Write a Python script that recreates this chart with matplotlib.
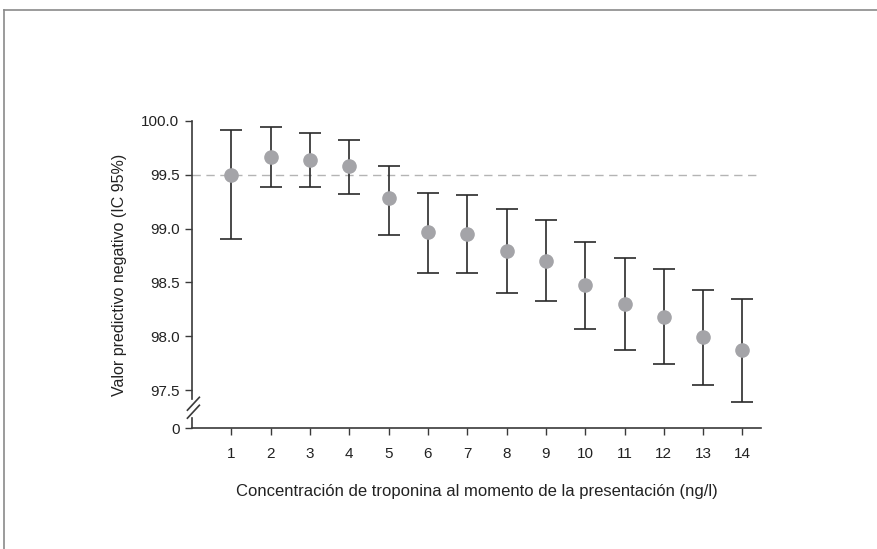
import numpy as np
import matplotlib
matplotlib.use("Agg")
import matplotlib.pyplot as plt
from matplotlib.lines import Line2D

plt.rcParams["font.family"] = ["Liberation Sans", "DejaVu Sans"]

# data
conc = [1, 2, 3, 4, 5, 6, 7, 8, 9, 10, 11, 12, 13, 14]
vpn = [99.50, 99.67, 99.64, 99.58, 99.28, 98.97, 98.95, 98.79, 98.70, 98.48, 98.30, 98.18, 97.99, 97.87]
ci_low = [98.90, 99.39, 99.39, 99.32, 98.94, 98.59, 98.59, 98.40, 98.33, 98.07, 97.87, 97.74, 97.55, 97.39]
ci_high = [99.92, 99.94, 99.89, 99.82, 99.58, 99.33, 99.31, 99.18, 99.08, 98.88, 98.73, 98.62, 98.43, 98.35]
reference_vpn = 99.5
y_ticks = [97.5, 98.0, 98.5, 99.0, 99.5, 100.0]
y_zero_pos = 97.147  # where the "0" of the broken axis sits

vpn = np.array(vpn)
yerr = [vpn - np.array(ci_low), np.array(ci_high) - vpn]

fig = plt.figure(figsize=(8.77, 5.49), dpi=100)
ax = fig.add_axes([0.2189, 0.2204, 0.6488, 0.5592])

ax.axhline(reference_vpn, color="#b4b4b4", lw=1.0, dashes=(6, 4), zorder=1)

ax.errorbar(conc, vpn, yerr=yerr, fmt="o", color="#a4a4a8", markersize=9.5,
            ecolor="#2a2a2a", elinewidth=1.2, capsize=8, capthick=1.2, zorder=3)

ax.set_xlim(0, 14.47)
ax.set_ylim(y_zero_pos, 100.0)
ax.set_xticks(conc)
ax.set_yticks([y_zero_pos] + y_ticks)
ax.set_yticklabels(["0"] + [f"{t:.1f}" for t in y_ticks])

for s in ["top", "right", "left"]:
    ax.spines[s].set_visible(False)
ax.spines["bottom"].set_color("#3a3a3a")
ax.spines["bottom"].set_linewidth(1.2)
ax.tick_params(axis="both", direction="out", length=5, width=1.0, color="#3a3a3a",
               labelsize=11, labelcolor="#222222", pad=4)
ax.tick_params(axis="x", pad=8.5)

# left spine with a break
spine_kw = dict(transform=ax.transAxes, color="#3a3a3a", lw=1.2, clip_on=False)
ax.add_line(Line2D([0, 0], [0.0959, 1.0], **spine_kw))
ax.add_line(Line2D([0, 0], [0.0, 0.032], **spine_kw))
ax.add_line(Line2D([-0.008, 0.013], [0.058, 0.100], **spine_kw))
ax.add_line(Line2D([-0.008, 0.013], [0.032, 0.074], **spine_kw))

ax.set_xlabel("Concentración de troponina al momento de la presentación (ng/l)",
              fontsize=12, color="#222222", labelpad=17)
ax.set_ylabel("Valor predictivo negativo (IC 95%)", fontsize=11.5, color="#222222", labelpad=10)

# frame of the original figure panel
fig.add_artist(Line2D([4 / 877, 4 / 877], [0, 1 - 10 / 549], transform=fig.transFigure,
                      color="#8a8a8a", lw=1.2))
fig.add_artist(Line2D([4 / 877, 1], [1 - 10 / 549, 1 - 10 / 549], transform=fig.transFigure,
                      color="#8a8a8a", lw=1.2))

fig.savefig("out.png", dpi=100)
